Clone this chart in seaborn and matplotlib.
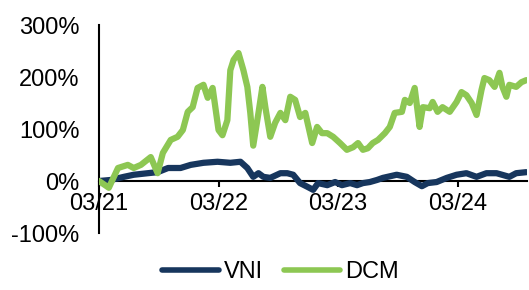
import matplotlib
matplotlib.use("Agg")
import matplotlib.pyplot as plt
from matplotlib.lines import Line2D
import seaborn as sns
import pandas as pd

# ---------------- data ----------------
vni_dates = [
    "2021-03-01", "2021-04-06", "2021-05-16", "2021-06-15", "2021-07-28", "2021-08-27",
    "2021-09-28", "2021-11-05", "2021-12-06", "2022-01-14", "2022-02-26", "2022-04-06",
    "2022-05-07", "2022-05-28", "2022-06-15", "2022-07-01", "2022-07-16", "2022-08-06",
    "2022-09-06", "2022-09-27", "2022-10-15", "2022-11-05", "2022-11-30", "2022-12-15",
    "2022-12-30", "2023-01-27", "2023-02-20", "2023-03-13", "2023-04-07", "2023-04-28",
    "2023-05-16", "2023-06-06", "2023-06-28", "2023-07-16", "2023-08-27", "2023-09-27",
    "2023-10-21", "2023-11-12", "2023-11-30", "2023-12-27", "2024-01-27", "2024-02-26",
    "2024-03-27", "2024-04-27", "2024-05-27", "2024-06-27", "2024-08-05", "2024-08-26",
    "2024-09-26",
]
vni_values = [
    0, 2, 8, 12, 15, 17,
    25, 25, 31, 35, 37, 35,
    37, 25, 8, 15, 8, 6,
    15, 15, 12, -4, -12, -17,
    -4, -8, -2, -8, -4, -8,
    -4, -2, 2, 6, 12, 8,
    -2, -10, -4, -2, 6, 12,
    15, 8, 15, 15, 8, 15,
    17,
]

dcm_dates = [
    "2021-03-01", "2021-03-31", "2021-04-28", "2021-05-28", "2021-06-15", "2021-07-07",
    "2021-08-06", "2021-08-27", "2021-09-12", "2021-10-06", "2021-10-27", "2021-11-12",
    "2021-11-27", "2021-12-12", "2021-12-27", "2022-01-14", "2022-01-27", "2022-02-11",
    "2022-03-01", "2022-03-13", "2022-03-28", "2022-04-06", "2022-04-16", "2022-05-01",
    "2022-05-16", "2022-05-28", "2022-06-06", "2022-06-15", "2022-07-01", "2022-07-13",
    "2022-07-22", "2022-08-06", "2022-08-21", "2022-09-06", "2022-09-21", "2022-10-06",
    "2022-10-21", "2022-11-05", "2022-11-21", "2022-12-12", "2022-12-27", "2023-01-11",
    "2023-01-27", "2023-02-14", "2023-03-07", "2023-03-28", "2023-04-16", "2023-05-01",
    "2023-05-16", "2023-05-31", "2023-06-15", "2023-07-01", "2023-07-22", "2023-08-06",
    "2023-08-21", "2023-09-12", "2023-09-21", "2023-10-06", "2023-10-21", "2023-11-05",
    "2023-11-15", "2023-12-06", "2023-12-15", "2023-12-30", "2024-01-14", "2024-02-05",
    "2024-02-26", "2024-03-12", "2024-03-27", "2024-04-12", "2024-04-27", "2024-05-12",
    "2024-05-21", "2024-06-05", "2024-06-21", "2024-07-06", "2024-07-15", "2024-07-27",
    "2024-08-05", "2024-08-26", "2024-09-11", "2024-09-26",
]
dcm_values = [
    0, -13, 25, 31, 25, 31,
    46, 15, 54, 79, 85, 98,
    133, 142, 179, 185, 160, 179,
    98, 88, 117, 213, 233, 246,
    213, 181, 131, 68, 131, 181,
    142, 85, 112, 131, 117, 162,
    156, 123, 131, 73, 104, 92,
    92, 85, 73, 60, 65, 73,
    60, 63, 73, 79, 92, 104,
    131, 133, 156, 150, 179, 104,
    142, 140, 152, 133, 142, 133,
    152, 171, 165, 150, 127, 175,
    198, 194, 181, 208, 181, 162,
    185, 181, 190, 194,
]

series_names = ["VNI", "DCM"]
series_colors = ["#17365D", "#8DC753"]

tick_dates = ["2021-03-01", "2022-03-01", "2023-03-01", "2024-03-01"]
tick_labels = ["03/21", "03/22", "03/23", "03/24"]
y_ticks = [-100, 0, 100, 200, 300]
y_tick_labels = ["-100%", "0%", "100%", "200%", "300%"]

# ---------------- build table ----------------
df = pd.concat([
    pd.DataFrame({"date": pd.to_datetime(vni_dates), "value": vni_values, "series": "VNI"}),
    pd.DataFrame({"date": pd.to_datetime(dcm_dates), "value": dcm_values, "series": "DCM"}),
], ignore_index=True)

# ---------------- style ----------------
sns.set_theme(style="white")
plt.rcParams["font.family"] = ["Liberation Sans", "DejaVu Sans"]
plt.rcParams["text.color"] = "black"
plt.rcParams["xtick.color"] = "black"
plt.rcParams["ytick.color"] = "black"

W, H = 529, 290
fig = plt.figure(figsize=(W / 100, H / 100), dpi=100)
ax = fig.add_axes([99 / W, 1 - 233 / H, (527 - 99) / W, (233 - 25) / H])

palette = dict(zip(series_names, series_colors))
sns.lineplot(data=df, x="date", y="value", hue="series", hue_order=series_names,
             palette=palette, linewidth=4.5, estimator=None, sort=True,
             legend=False, ax=ax, zorder=3,
             solid_joinstyle="round", solid_capstyle="round")

ax.set_ylim(-100, 300)
ax.set_xlim(pd.Timestamp("2021-03-01"), pd.Timestamp("2024-09-28"))
ax.set_xlabel("")
ax.set_ylabel("")

ax.set_yticks(y_ticks)
ax.set_yticklabels(y_tick_labels)
ax.set_xticks(pd.to_datetime(tick_dates))
ax.set_xticklabels(tick_labels)
ax.get_xticklabels()[0].set_horizontalalignment("left")

ax.tick_params(axis="y", length=0, pad=14, labelsize=17)
ax.tick_params(axis="x", length=4, width=1.5, direction="out", pad=5,
               labelsize=17, bottom=True)

for s in ["top", "right"]:
    ax.spines[s].set_visible(False)
ax.spines["bottom"].set_position(("data", 0))
for s in ["left", "bottom"]:
    ax.spines[s].set_color("black")
    ax.spines[s].set_linewidth(1.5)
    ax.spines[s].set_zorder(1)
ax.grid(False)

handles = [Line2D([0], [0], color=c, lw=4, solid_capstyle="round") for c in series_colors]
fig.legend(handles, series_names, loc="center", bbox_to_anchor=(280.5 / W, 1 - 272 / H),
           ncol=2, frameon=False, fontsize=17, handlelength=2.4, handletextpad=0.2,
           columnspacing=0.9)

fig.savefig("out.png", dpi=100)
